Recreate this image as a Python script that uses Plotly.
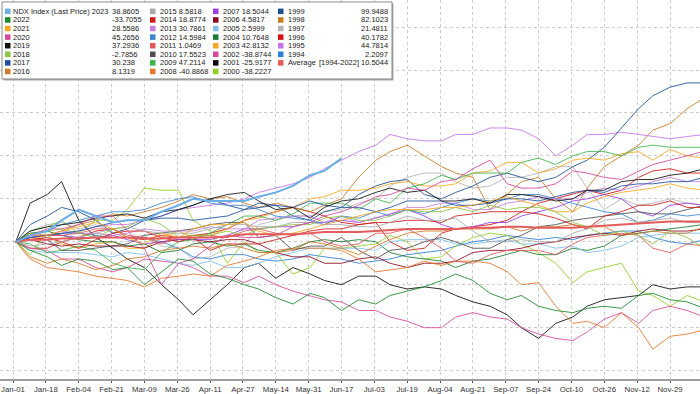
import plotly.graph_objects as go

# ---------------- data ----------------
session_day = [1, 6, 12, 17, 23, 29, 35, 40, 46, 52, 58, 63, 69, 75, 81, 86, 92, 98, 104, 109,
               115, 121, 127, 132, 138, 144, 150, 155, 161, 167, 173, 178, 184, 190, 196, 201,
               207, 213, 219, 224, 230, 236, 242, 247, 251]

tick_labels = ["Jan-01", "Jan-18", "Feb-04", "Feb-21", "Mar-09", "Mar-26", "Apr-11", "Apr-27",
               "May-14", "May-31", "Jun-17", "Jul-03", "Jul-19", "Aug-04", "Aug-21", "Sep-07",
               "Sep-24", "Oct-10", "Oct-26", "Nov-12", "Nov-29", "Dec-16"]

y2023 = [0, 3, 5, 10, 15, 12, 9, 10, 10, 14, 17, 20, 19, 19, 19, 21, 23, 26, 31, 33, 38.86]
y2022 = [0, -4, -7, -11, -8, -9, -13, -12, -20, -14, -8, -9, -15, -17, -20, -22, -26, -29, -24, -26,
         -32, -27, -29, -25, -23, -21, -18, -15, -18, -24, -27, -25, -30, -32, -33, -31, -30, -31,
         -25, -24, -27, -28, -31, -34, -33.7]
y2021 = [0, 1, 3, 5, 7, 9, 6, 2, -1, 4, 2, 6, 8, 8, 9, 5, 3, 4, 6, 8, 10, 12, 14, 15, 15, 15, 16,
         16, 17, 19, 21, 19, 17, 14, 14, 18, 21, 23, 24, 25, 27, 25, 24, 27, 28.56]
y2020 = [0, 3, 6, 6, 8, 12, 12, 5, -3, -20, -10, -8, -2, 3, 2, 2, 3, 7, 9, 12, 14, 17, 21, 22, 25,
         24, 28, 29, 34, 38, 27, 25, 25, 27, 33, 32, 30, 29, 33, 36, 38, 40, 42, 44, 45.27]
y2019 = [0, 5, 7, 8, 9, 11, 12, 13, 11, 14, 15, 17, 20, 22, 23, 19, 15, 16, 11, 16, 19, 20, 23, 25,
         23, 24, 19, 19, 20, 18, 22, 22, 21, 19, 20, 24, 24, 28, 29, 29, 31, 32, 34, 36, 37.29]
y2018 = [0, 5, 7, 10, 4, 2, 6, 7, 11, 8, 2, 3, 3, 5, 3, 6, 7, 8, 8, 11, 12, 10, 10, 12, 15, 14, 14,
         16, 14, 17, 15, 16, 16, 14, 9, 7, 3, 5, 3, -1, 5, 2, -3, -12, -2.79]
y2017 = [0, 2, 3, 4, 5, 7, 9, 10, 10, 11, 11, 10, 11, 12, 15, 16, 17, 16, 19, 17, 16, 16, 14, 16,
         19, 19, 19, 17, 17, 18, 20, 20, 19, 21, 23, 24, 23, 26, 27, 27, 28, 28, 30, 29, 30.24]
y2016 = [0, -7, -10, -8, -10, -13, -11, -8, -7, -4, -3, -2, -3, -1, -3, -5, -5, -4, 0, -1, -3, -6,
         -2, 1, 4, 5, 5, 6, 6, 6, 7, 5, 7, 7, 8, 7, 7, 3, 4, 5, 4, 4, 7, 6, 8.13]
y2015 = [0, -2, -1, 0, 2, 4, 6, 7, 5, 4, 4, 4, 6, 8, 8, 7, 7, 9, 9, 8, 8, 7, 7, 9, 12, 10, 10, 11,
         5, 0, 0, 1, 0, 0, 4, 6, 10, 11, 9, 10, 11, 9, 9, 9, 8.58]
y2014 = [0, 1, 2, 0, -3, 1, 4, 5, 5, 2, 0, 2, -4, -1, -1, -1, 1, 3, 5, 6, 6, 8, 9, 9, 10, 10, 9, 12,
         13, 14, 14, 14, 13, 11, 8, 6, 12, 14, 17, 17, 19, 16, 16, 19, 18.88]
y2013 = [0, 2, 3, 5, 4, 4, 3, 4, 6, 5, 5, 5, 7, 6, 6, 10, 11, 12, 12, 9, 12, 9, 11, 13, 16, 16, 18,
         18, 15, 15, 18, 19, 21, 20, 20, 23, 25, 24, 26, 28, 30, 28, 28, 30, 30.79]
y2012 = [0, 3, 5, 8, 10, 12, 14, 14, 15, 18, 20, 21, 18, 17, 17, 15, 12, 11, 10, 8, 12, 11, 14, 12,
         15, 13, 16, 18, 20, 19, 20, 22, 22, 20, 18, 16, 14, 13, 9, 10, 13, 12, 13, 13, 14.6]
y2011 = [0, 3, 3, 3, 4, 6, 6, 3, 2, -1, 2, 3, 3, 2, 5, 6, 4, 3, 4, 0, -2, -1, 4, 4, 6, 2, -3, -9,
         -10, -6, -4, -4, -4, -6, -1, 2, 3, 4, 3, -3, -5, -1, -2, 0, 1.05]
y2010 = [0, 2, 1, -4, -4, -3, -2, -1, 3, 4, 5, 6, 8, 9, 9, 2, 3, -4, -2, -2, 2, -4, -8, -4, -3, 0,
         2, 0, -3, -3, 1, 3, 7, 8, 10, 11, 12, 13, 14, 13, 13, 15, 17, 18, 17.55]
y2009 = [0, -1, -5, -4, -2, -4, -10, -12, -13, -5, 0, 1, 4, 8, 12, 12, 10, 13, 18, 18, 18, 15, 20,
         18, 25, 27, 31, 29, 32, 32, 32, 37, 39, 36, 40, 42, 42, 40, 44, 45, 44, 44, 44, 47, 47.21]
y2008 = [0, -8, -12, -13, -14, -16, -17, -18, -21, -17, -16, -15, -16, -11, -9, -7, -4, -3, -3, -3,
         -4, -8, -14, -13, -12, -9, -11, -9, -9, -10, -14, -20, -19, -30, -38, -37, -40, -33, -40,
         -50, -44, -43, -41, -43, -40.89]
y2007 = [0, 2, 3, 3, 2, 2, 3, 1, -1, 0, 1, 1, 1, 3, 6, 6, 7, 7, 9, 9, 10, 9, 11, 13, 15, 12, 8, 6,
         7, 9, 9, 12, 14, 16, 19, 20, 22, 20, 14, 12, 17, 18, 17, 18, 18.5]
y2006 = [0, 1, -1, -2, -1, -2, -2, -2, -3, 0, 1, 1, 0, 1, 1, -1, -5, -7, -7, -10, -10, -8, -7, -10,
         -12, -10, -10, -9, -5, -4, -4, -3, -1, 0, 2, 3, 4, 3, 5, 6, 5, 5, 6, 5, 4.58]
y2005 = [0, -4, -5, -5, -5, -6, -7, -5, -6, -8, -10, -11, -9, -12, -12, -10, -7, -5, -3, -3, -3, -3,
         -4, 0, 1, 1, 1, -1, -1, 0, 1, -1, -1, -3, -2, -5, -4, -2, 2, 3, 4, 4, 4, 2, 2.6]
y2004 = [0, 4, 5, 3, 1, 0, 0, -2, -1, -5, -4, -1, 0, -2, -1, -4, -5, -3, 0, 1, 0, 1, 0, -5, -7, -8,
         -9, -12, -9, -8, -6, -4, -6, -6, -3, -4, -2, 3, 4, 5, 6, 7, 8, 9, 10.76]
y2003 = [0, 4, 3, -1, -3, -1, 0, -3, -3, 2, 5, 2, 3, 6, 10, 11, 14, 16, 20, 21, 24, 24, 25, 27, 28,
         26, 26, 27, 32, 33, 37, 37, 32, 34, 38, 39, 38, 41, 42, 38, 43, 40, 39, 41, 42.81]
y2002 = [0, -3, -4, -8, -8, -12, -14, -12, -8, -9, -10, -12, -16, -16, -19, -16, -20, -23, -25, -27,
         -28, -32, -32, -35, -37, -40, -40, -35, -33, -35, -36, -40, -43, -45, -46, -42, -36, -33,
         -38, -32, -30, -32, -35, -37, -38.87]
y2001 = [0, 18, 22, 28, 10, 2, -3, -8, -12, -20, -27, -34, -27, -20, -12, -10, -17, -12, -15, -18,
         -20, -16, -16, -20, -22, -21, -22, -25, -28, -30, -34, -40, -45, -38, -35, -30, -27, -26,
         -25, -20, -22, -21, -21, -24, -25.92]
y2000 = [0, -6, 5, 6, 4, 10, 10, 15, 25, 24, 24, 10, 5, -10, 0, -5, -5, -15, -12, -3, -3, -2, -1,
         3, 0, -8, -7, -2, 2, 4, 3, -1, -5, -10, -19, -14, -12, -10, -23, -25, -30, -25, -28, -35,
         -38.22]
y1999 = [0, 8, 12, 16, 14, 10, 4, 6, 10, 12, 15, 17, 20, 17, 15, 18, 17, 12, 10, 14, 16, 22, 26,
         28, 29, 22, 20, 23, 26, 30, 32, 30, 28, 30, 35, 38, 44, 53, 62, 68, 72, 74, 74, 85, 99.95]
y1998 = [0, 2, 3, 5, 8, 10, 13, 12, 14, 16, 19, 22, 20, 21, 18, 16, 18, 16, 14, 17, 20, 30, 38, 42,
         45, 40, 35, 32, 30, 15, 22, 28, 30, 20, 14, 25, 35, 40, 45, 52, 55, 62, 67, 70, 82.1]
y1997 = [0, 5, 8, 9, 6, 8, 4, 2, 3, -2, -3, -8, -7, -3, -2, 8, 10, 12, 12, 14, 15, 18, 20, 26, 30,
         32, 32, 28, 25, 26, 30, 30, 32, 35, 35, 25, 15, 20, 17, 18, 20, 18, 17, 20, 21.48]
y1996 = [0, -3, -3, 0, 2, 5, 6, 2, 1, 3, 2, 3, 4, 6, 10, 12, 14, 16, 14, 12, 9, 8, 9, 0, -4, -3, 4,
         6, 7, 8, 10, 14, 18, 20, 22, 24, 22, 24, 30, 33, 34, 32, 32, 37, 40.18]
y1995 = [0, 2, 3, 4, 5, 7, 8, 8, 10, 12, 15, 16, 17, 18, 20, 23, 25, 27, 30, 34, 38, 42, 45, 50,
         48, 47, 47, 50, 50, 53, 53, 52, 48, 40, 45, 50, 50, 51, 50, 49, 48, 49, 50, 46, 44.78]
y1994 = [0, 2, 3, 4, 4, 3, 2, 2, 2, 0, -3, -7, -8, -6, -6, -8, -9, -8, -6, -7, -8, -10, -9, -8, -6,
         -5, -4, -2, 0, 1, 3, 2, 1, 2, 1, 3, 4, 5, 5, 2, 0, -1, 1, 2, 2.21]
y_avg = [0, 1, 1, 1.5, 1.5, 2, 2, 2, 1.5, 1.5, 2, 2, 2, 2.5, 3.5, 3.5, 3.5, 3.5, 4, 4.5, 4.5, 4.5,
         5, 5.5, 6, 6, 6, 6, 6.5, 6.5, 7, 7, 6.5, 6.5, 6.5, 7, 7.5, 8, 8.5, 9, 9.5, 9.5, 9.5, 10, 10.5]

legend_values = {
    "2023": "38.8605", "2022": "-33.7055", "2021": "28.5586", "2020": "45.2656",
    "2019": "37.2936", "2018": "-2.7856", "2017": "30.238", "2016": "8.1319",
    "2015": "8.5818", "2014": "18.8774", "2013": "30.7861", "2012": "14.5984",
    "2011": "1.0469", "2010": "17.5523", "2009": "47.2114", "2008": "-40.8868",
    "2007": "18.5044", "2006": "4.5817", "2005": "2.5999", "2004": "10.7648",
    "2003": "42.8132", "2002": "-38.8744", "2001": "-25.9177", "2000": "-38.2227",
    "1999": "99.9488", "1998": "82.1023", "1997": "21.4811", "1996": "40.1782",
    "1995": "44.7814", "1994": "2.2097", "avg": "10.5044",
}

colors = {
    "2023": "#6aaee6", "2022": "#1a8a2a", "2021": "#f5a81e", "2020": "#d4479a",
    "2019": "#111111", "2018": "#8cc63f", "2017": "#1f4fa0", "2016": "#d07a2a",
    "2015": "#a9a9a9", "2014": "#d01c1c", "2013": "#c57fe0", "2012": "#3b86d0",
    "2011": "#e25858", "2010": "#4e4e4e", "2009": "#3cb54a", "2008": "#e8752a",
    "2007": "#9b3fe0", "2006": "#8e0a1e", "2005": "#7fc0f0", "2004": "#1b7d32",
    "2003": "#f6a91f", "2002": "#d8489c", "2001": "#0a0a0a", "2000": "#93d125",
    "1999": "#1c4f8c", "1998": "#c97a24", "1997": "#b5b5b5", "1996": "#d41414",
    "1995": "#c575e8", "1994": "#2d80d8", "avg": "#e45c5c",
}

series = {
    "1994": y1994, "1995": y1995, "1996": y1996, "1997": y1997, "1998": y1998, "1999": y1999,
    "2000": y2000, "2001": y2001, "2002": y2002, "2003": y2003, "2004": y2004, "2005": y2005,
    "2006": y2006, "2007": y2007, "2008": y2008, "2009": y2009, "2010": y2010, "2011": y2011,
    "2012": y2012, "2013": y2013, "2014": y2014, "2015": y2015, "2016": y2016, "2017": y2017,
    "2018": y2018, "2019": y2019, "2020": y2020, "2021": y2021, "2022": y2022,
    "avg": y_avg, "2023": y2023,
}

# ---------------- figure ----------------
W, H = 700, 394
MB = 10
PH = H - MB  # plot height in px
fig = go.Figure()

for key, vals in series.items():
    thick = key in ("2023", "avg")
    fig.add_trace(go.Scatter(
        x=session_day[:len(vals)], y=vals, mode="lines",
        line=dict(color=colors[key], width=2 if thick else 1),
        opacity=1 if thick else 0.85,
        hoverinfo="skip", showlegend=False))

TICK_STEP = 11.5
fig.update_xaxes(
    range=[-4.55, 240.5], tickmode="array",
    tickvals=[i * TICK_STEP for i in range(len(tick_labels))], ticktext=tick_labels,
    showgrid=True, gridcolor="#cccccc", griddash="dot", gridwidth=1,
    showline=True, linecolor="#a0a0a0", linewidth=2,
    ticks="outside", ticklen=2, tickcolor="#555555",
    tickfont=dict(family="Liberation Sans", size=7.8, color="#333333"),
    zeroline=False, fixedrange=True)
fig.update_yaxes(
    range=[-63.9, 112.6], tick0=0, dtick=20, showticklabels=False,
    showgrid=True, gridcolor="#cccccc", griddash="dot", gridwidth=1,
    zeroline=False, showline=False, fixedrange=True)

# ---------------- custom legend ----------------
def px2x(px):
    return px / W

def px2y(py):
    return 1 - py / PH

shapes = []
annotations = []
# shadow + box
shapes.append(dict(type="rect", xref="paper", yref="paper", layer="above",
                   x0=px2x(3.5), x1=px2x(393.5), y0=px2y(81.5), y1=px2y(3.5),
                   fillcolor="#a8a8a8", line=dict(width=0)))
shapes.append(dict(type="rect", xref="paper", yref="paper", layer="above",
                   x0=px2x(2), x1=px2x(392), y0=px2y(80), y1=px2y(2),
                   fillcolor="white", line=dict(color="#8a8a8a", width=1)))

LF = dict(family="Liberation Sans", size=7.5, color="#222222")
row_y = [11.5 + 8.7 * i for i in range(8)]

def swatch(x, y, key):
    shapes.append(dict(type="rect", xref="paper", yref="paper", layer="above",
                       x0=px2x(x), x1=px2x(x + 5.5), y0=px2y(y + 2.8), y1=px2y(y - 2.8),
                       fillcolor=colors[key], line=dict(width=0)))

def text(x, y, s, anchor="left"):
    annotations.append(dict(xref="paper", yref="paper", x=px2x(x), y=px2y(y), text=s,
                            showarrow=False, xanchor=anchor, yanchor="middle",
                            font=LF, align=anchor, borderpad=0))

col1 = ["2023", "2022", "2021", "2020", "2019", "2018", "2017", "2016"]
col2 = ["2015", "2014", "2013", "2012", "2011", "2010", "2009", "2008"]
col3 = ["2007", "2006", "2005", "2004", "2003", "2002", "2001", "2000"]
col4 = ["1999", "1998", "1997", "1996", "1995", "1994", "avg"]

for i, k in enumerate(col1):
    swatch(5, row_y[i], k)
    name = "NDX Index (Last Price) 2023" if k == "2023" else k
    text(12, row_y[i], name)
    text(111, row_y[i], legend_values[k])
for i, k in enumerate(col2):
    swatch(150, row_y[i], k)
    text(158.5, row_y[i], f"{k} {legend_values[k]}")
for i, k in enumerate(col3):
    swatch(213, row_y[i], k)
    text(221.5, row_y[i], f"{k} {legend_values[k]}")
for i, k in enumerate(col4):
    swatch(278, row_y[i], k)
    if k == "avg":
        text(286.5, row_y[i], "Average")
        text(318, row_y[i], "[1994-2022]")
    else:
        text(286.5, row_y[i], k)
    text(389, row_y[i], legend_values[k], anchor="right")

fig.update_layout(
    width=W, height=H, margin=dict(l=0, r=0, t=0, b=MB, pad=0),
    paper_bgcolor="white", plot_bgcolor="white",
    shapes=shapes, annotations=annotations, showlegend=False)

fig.write_html("out.html", config={"displayModeBar": False},
               post_script="document.body.style.margin='0';document.body.style.overflow='hidden';")
